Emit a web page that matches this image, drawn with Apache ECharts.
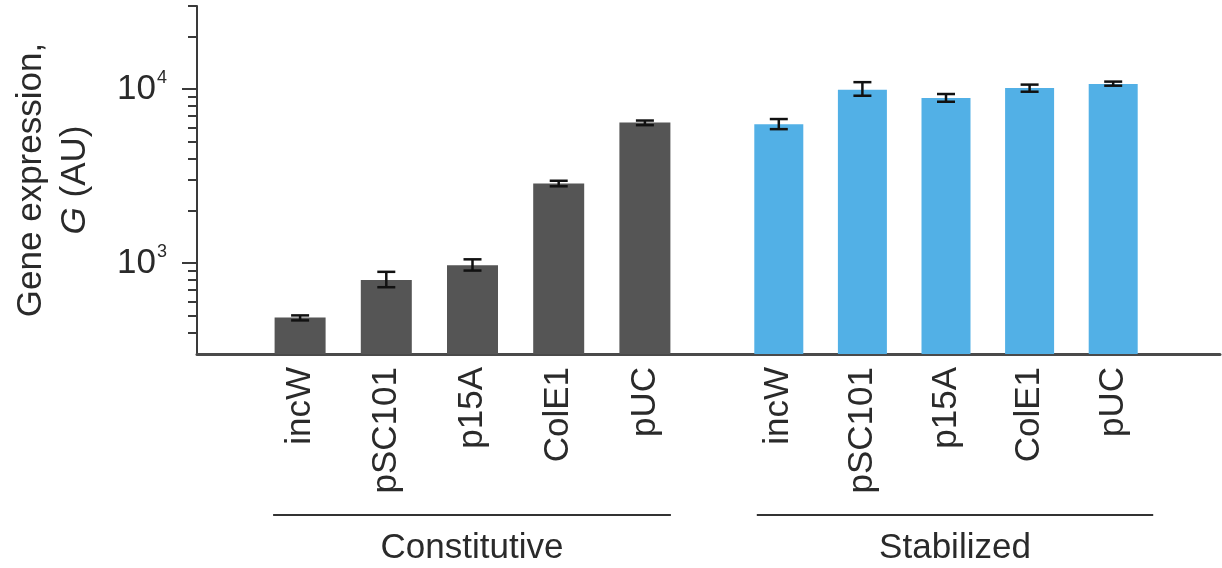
<!DOCTYPE html>
<html>
<head>
<meta charset="utf-8">
<script src="https://cdn.jsdelivr.net/npm/echarts@6/dist/echarts.min.js"></script>
<style>
  html, body { margin: 0; padding: 0; background: #fff; }
  #chart { width: 1222px; height: 568px; }
</style>
</head>
<body>
<div id="chart"></div>
<script>
// plasmid origins, same order in both groups
const categories = ['incW', 'pSC101', 'p15A', 'ColE1', 'pUC'];

// constitutive expression (AU) with error bar ends
const constitutiveG = [487, 800, 972, 2860, 6420];
const constitutiveLow = [468, 726, 905, 2760, 6200];
const constitutiveHigh = [500, 890, 1050, 2970, 6590];

// stabilized expression (AU) with error bar ends
const stabilizedG = [6280, 9910, 8870, 10140, 10690];
const stabilizedLow = [5880, 9150, 8450, 9650, 10450];
const stabilizedHigh = [6720, 10950, 9360, 10600, 11030];

const groupNames = ['Constitutive', 'Stabilized'];
const yMajorTicks = [1000, 10000];
const yMinorTicks = [400, 500, 600, 700, 800, 900,
  2000, 3000, 4000, 5000, 6000, 7000, 8000, 9000, 20000, 30000];

const FONT = '"Liberation Sans", Arial, Helvetica, sans-serif';
const TEXT = '#2a2a2a';
const Y_MIN = 300, Y_MAX = 30000;
const TOP = 6, BOTTOM = 214;

var chart = echarts.init(document.getElementById('chart'));

function errorBars(low, high) {
  return low.map((v, i) => [i, v, high[i]]);
}

function renderErr(params, api) {
  var x = api.value(0);
  var top = api.coord([x, api.value(2)]);
  var bot = api.coord([x, api.value(1)]);
  var half = 9;
  var style = { stroke: '#111', lineWidth: 2.5 };
  return {
    type: 'group',
    children: [
      { type: 'line', shape: { x1: top[0], y1: top[1], x2: bot[0], y2: bot[1] }, style: style },
      { type: 'line', shape: { x1: top[0] - half, y1: top[1], x2: top[0] + half, y2: top[1] }, style: style },
      { type: 'line', shape: { x1: bot[0] - half, y1: bot[1], x2: bot[0] + half, y2: bot[1] }, style: style }
    ]
  };
}

function catAxis(gridIndex) {
  return {
    type: 'category',
    gridIndex: gridIndex,
    data: categories,
    axisLine: { show: false },
    axisTick: { show: false },
    axisLabel: {
      rotate: 90,
      margin: 13,
      fontSize: 35,
      fontFamily: FONT,
      color: TEXT
    }
  };
}

function hiddenLogAxis(gridIndex) {
  return { type: 'log', gridIndex: gridIndex, min: Y_MIN, max: Y_MAX, show: false };
}

const option = {
  animation: false,
  grid: [
    // frame for the shared axes
    { left: 197, right: 2, top: TOP, bottom: BOTTOM },
    // constitutive bars
    { left: 257, width: 431, top: TOP, bottom: BOTTOM },
    // stabilized bars
    { left: 737, width: 418, top: TOP, bottom: BOTTOM }
  ],
  xAxis: [
    {
      type: 'value', gridIndex: 0, min: 0, max: 1,
      axisLine: { show: true, lineStyle: { color: '#4a4a4a', width: 3 } },
      axisTick: { show: false }, axisLabel: { show: false }, splitLine: { show: false }
    },
    catAxis(1),
    catAxis(2)
  ],
  yAxis: [
    {
      type: 'log', gridIndex: 0, min: Y_MIN, max: Y_MAX,
      name: 'Gene expression,\n{it|G} (AU)',
      nameLocation: 'middle',
      nameRotate: 90,
      nameGap: 100,
      nameTextStyle: {
        fontSize: 35, lineHeight: 44, fontFamily: FONT, color: TEXT,
        rich: { it: { fontStyle: 'italic', fontSize: 35, fontFamily: FONT, color: TEXT } }
      },
      axisLine: { show: true, lineStyle: { color: '#3a3a3a', width: 2 } },
      axisTick: { show: true, length: 15, customValues: yMajorTicks, lineStyle: { color: '#3a3a3a', width: 2 } },
      axisLabel: {
        customValues: yMajorTicks,
        margin: 30,
        formatter: function (v) {
          return '{b|10}{s|' + Math.round(Math.log10(v)) + '}';
        },
        rich: {
          b: { fontSize: 35, fontFamily: FONT, color: TEXT },
          s: { fontSize: 18, fontFamily: FONT, color: TEXT, padding: [0, 0, 22, 1] }
        }
      },
      splitLine: { show: false }
    },
    {
      type: 'log', gridIndex: 0, min: Y_MIN, max: Y_MAX, position: 'left',
      axisLine: { show: false },
      axisTick: { show: true, length: 9, customValues: yMinorTicks, lineStyle: { color: '#3a3a3a', width: 2 } },
      axisLabel: { show: false },
      splitLine: { show: false }
    },
    hiddenLogAxis(1),
    hiddenLogAxis(2)
  ],
  series: [
    {
      name: 'Constitutive', type: 'bar', xAxisIndex: 1, yAxisIndex: 2,
      data: constitutiveG, barWidth: 51,
      itemStyle: { color: '#555555' }
    },
    {
      name: 'Constitutive error', type: 'custom', xAxisIndex: 1, yAxisIndex: 2,
      data: errorBars(constitutiveLow, constitutiveHigh), renderItem: renderErr, z: 5
    },
    {
      name: 'Stabilized', type: 'bar', xAxisIndex: 2, yAxisIndex: 3,
      data: stabilizedG, barWidth: 49,
      itemStyle: { color: '#52b0e6' }
    },
    {
      name: 'Stabilized error', type: 'custom', xAxisIndex: 2, yAxisIndex: 3,
      data: errorBars(stabilizedLow, stabilizedHigh), renderItem: renderErr, z: 5
    }
  ]
};

chart.setOption(option);

// group brackets under the category labels, placed from the axes themselves
var bracketPad = [[27, 26], [22, 40]];
var graphics = [];
[1, 2].forEach(function (axisIdx, g) {
  var x0 = chart.convertToPixel({ xAxisIndex: axisIdx }, categories[0]) - bracketPad[g][0];
  var x1 = chart.convertToPixel({ xAxisIndex: axisIdx }, categories[categories.length - 1]) + bracketPad[g][1];
  graphics.push({
    type: 'line',
    shape: { x1: x0, y1: 515, x2: x1, y2: 515 },
    style: { stroke: '#333', lineWidth: 2 }
  });
  graphics.push({
    type: 'text',
    x: (x0 + x1) / 2, y: 548,
    style: {
      text: groupNames[g], fontSize: 35, fontFamily: FONT, fill: TEXT,
      align: 'center', verticalAlign: 'middle'
    }
  });
});
chart.setOption({ graphic: graphics });
</script>
</body>
</html>
